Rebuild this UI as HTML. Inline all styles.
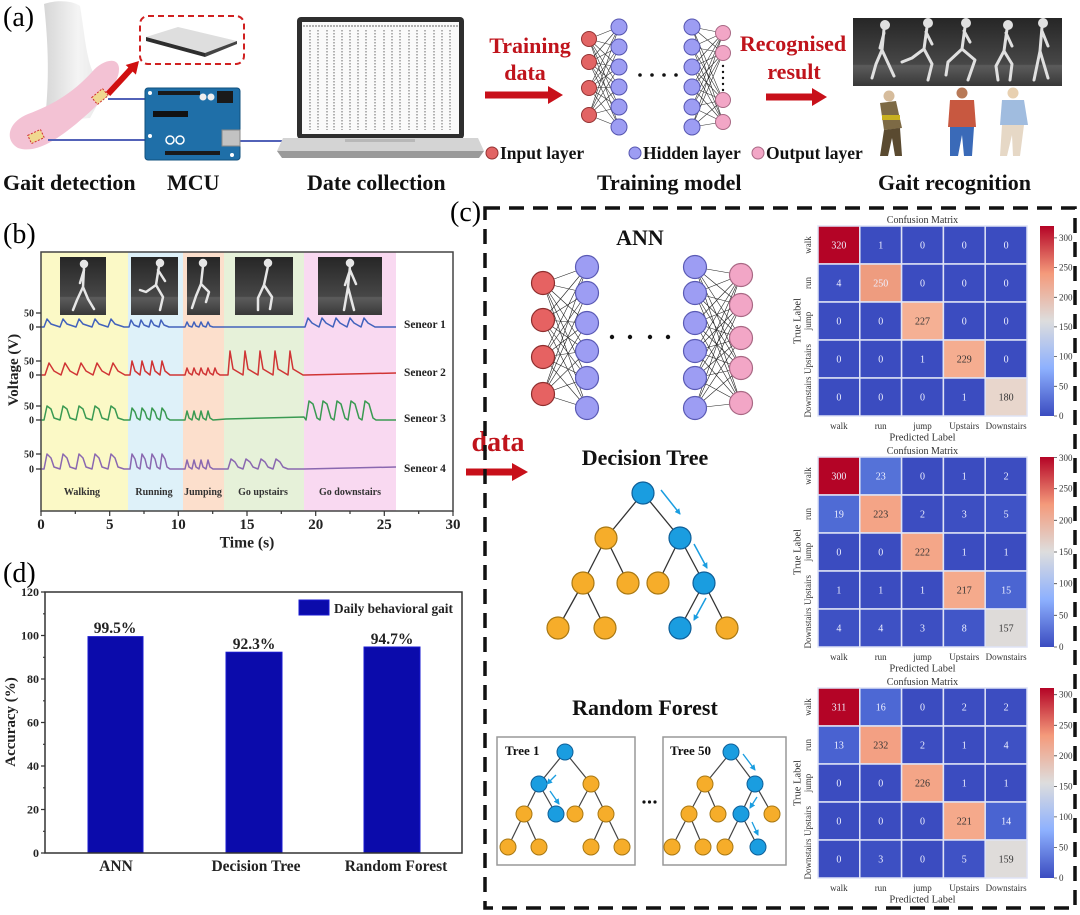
<!DOCTYPE html>
<html><head><meta charset="utf-8">
<style>
html,body{margin:0;padding:0;background:#fff;}
body{width:1080px;height:915px;overflow:hidden;}
svg{display:block;font-family:"Liberation Serif",serif;}
</style></head><body>
<svg width="1080" height="915" viewBox="0 0 1080 915" xmlns="http://www.w3.org/2000/svg">
<defs>
<linearGradient id="dk" x1="0" y1="0" x2="0" y2="1"><stop offset="0" stop-color="#262626"/><stop offset="0.68" stop-color="#474747"/><stop offset="0.7" stop-color="#5c5c5c"/><stop offset="1" stop-color="#383838"/></linearGradient>
<linearGradient id="cb" x1="0" y1="0" x2="0" y2="1"><stop offset="0" stop-color="#b40426"/><stop offset="0.25" stop-color="#f49a7b"/><stop offset="0.5" stop-color="#dddddd"/><stop offset="0.75" stop-color="#8db0fe"/><stop offset="1" stop-color="#3b4cc0"/></linearGradient>
<linearGradient id="legg" x1="0" y1="0" x2="1" y2="0"><stop offset="0" stop-color="#d6d6d6"/><stop offset="0.5" stop-color="#f4f4f4"/><stop offset="1" stop-color="#e2e2e2"/></linearGradient>
<marker id="ba" markerWidth="6" markerHeight="6" refX="5" refY="3" orient="auto" markerUnits="userSpaceOnUse"><path d="M0,0 L6,3 L0,6 Z" fill="#1a9de0"/></marker>
</defs>

<!-- ================= PANEL A ================= -->
<text x="3" y="26" font-size="28">(a)</text>
<!-- foot -->
<path d="M44,4 C55,0 72,0 80,6 C84,30 86,55 92,70 C98,82 106,84 112,78 L90,118 L45,122 C48,90 50,60 44,4 Z" fill="url(#legg)"/>
<path d="M18,148 C4,140 8,122 28,114 C50,106 72,94 92,72 C102,60 118,56 119,68 C120,84 100,104 76,124 C56,140 36,154 18,148 Z" fill="#f3c2d4"/>
<rect x="93" y="92" width="14" height="9" fill="#f0d890" stroke="#d03030" stroke-dasharray="2,1.5" transform="rotate(-40 100 96.5)"/>
<rect x="29" y="132" width="14" height="9" fill="#f0d890" stroke="#d03030" stroke-dasharray="2,1.5" transform="rotate(-25 36 136.5)"/>
<line x1="108" y1="99" x2="145" y2="99" stroke="#5262b8" stroke-width="2"/>
<line x1="48" y1="140" x2="145" y2="140" stroke="#5262b8" stroke-width="2"/>
<line x1="240" y1="141" x2="295" y2="141" stroke="#5262b8" stroke-width="2"/>
<line x1="108" y1="94" x2="131" y2="69" stroke="#d01010" stroke-width="6"/>
<polygon points="139,61 135.9,74.6 125.7,65" fill="#d01010"/>
<!-- sensor plate -->
<rect x="140" y="16" width="104" height="48" rx="8" fill="none" stroke="#d02020" stroke-width="2" stroke-dasharray="6,4"/>
<polygon points="146,37 178,27 237,41 205,53" fill="#dedede"/>
<polygon points="146,37 205,53 205,57 146,41" fill="#2e2e2e"/>
<polygon points="205,53 237,41 237,44 205,57" fill="#444"/>
<!-- arduino -->
<rect x="145" y="88" width="95" height="72" rx="3" fill="#1f6fa8" stroke="#12507e"/>
<rect x="158" y="91" width="42" height="4" fill="#1a1a1a"/>
<rect x="217" y="91" width="16" height="12" fill="#1a1a1a"/>
<circle cx="203" cy="97" r="3.5" fill="#eee"/><circle cx="211" cy="97" r="3.5" fill="#eee"/>
<rect x="153" y="111" width="35" height="6" fill="#111"/>
<rect x="222" y="130" width="18" height="16" fill="#c2c2c2" stroke="#888"/>
<rect x="165" y="151" width="55" height="4" fill="#1a1a1a"/>
<circle cx="170" cy="140" r="4" fill="none" stroke="#fff" stroke-width="1.5"/><circle cx="180" cy="140" r="4" fill="none" stroke="#fff" stroke-width="1.5"/>
<circle cx="150" cy="93" r="2" fill="#fff"/><circle cx="150" cy="136" r="2" fill="#fff"/><circle cx="232" cy="155" r="2" fill="#fff"/>
<!-- laptop -->
<rect x="297" y="17" width="167" height="122" rx="4" fill="#2e2e2e"/>
<rect x="302" y="22" width="157" height="112" fill="#fafafa"/>
<line x1="303" y1="26" x2="458" y2="26" stroke="#999" stroke-width="1.5" stroke-dasharray="2,1"/>
<g stroke="#8a8a8a" stroke-width="1.3" stroke-dasharray="1.5,1.5">
<line x1="310" y1="30" x2="310" y2="130"/><line x1="318" y1="30" x2="318" y2="130"/><line x1="327" y1="30" x2="327" y2="130"/><line x1="334" y1="30" x2="334" y2="130"/><line x1="342" y1="30" x2="342" y2="130"/><line x1="350" y1="30" x2="350" y2="130"/><line x1="358" y1="30" x2="358" y2="130"/><line x1="366" y1="30" x2="366" y2="130"/><line x1="375" y1="30" x2="375" y2="130"/><line x1="384" y1="30" x2="384" y2="130"/><line x1="392" y1="30" x2="392" y2="130"/><line x1="400" y1="30" x2="400" y2="130"/><line x1="409" y1="30" x2="409" y2="130"/><line x1="417" y1="30" x2="417" y2="130"/><line x1="425" y1="30" x2="425" y2="130"/><line x1="434" y1="30" x2="434" y2="130"/><line x1="442" y1="30" x2="442" y2="130"/><line x1="450" y1="30" x2="450" y2="130"/>
</g>
<path d="M283,138 L478,138 L484,151 L277,151 Z" fill="#d4d4d4"/>
<path d="M277,151 L484,151 L479,158 L282,158 Z" fill="#9a9a9a"/>
<rect x="345" y="139" width="70" height="3" fill="#b8b8b8"/>
<!-- training data text & arrow -->
<g font-weight="bold" font-size="22" fill="#c0141c" text-anchor="middle">
<text x="530" y="53">Training</text><text x="525" y="80">data</text>
<text x="793" y="51">Recognised</text><text x="794" y="79">result</text>
</g>
<polygon points="485,91.5 548,91.5 548,86 563,95 548,104 548,98.5 485,98.5" fill="#c8101a"/>
<polygon points="766,93.5 812,93.5 812,88 827,97 812,106 812,100.5 766,100.5" fill="#c8101a"/>
<!-- NN (a) -->
<g stroke="#333" stroke-width="0.6">
<path d="M589,39L619,27M589,39L619,47M589,39L619,67M589,39L619,87M589,39L619,107M589,39L619,127M589,62L619,27M589,62L619,47M589,62L619,67M589,62L619,87M589,62L619,107M589,62L619,127M589,88L619,27M589,88L619,47M589,88L619,67M589,88L619,87M589,88L619,107M589,88L619,127M589,115L619,27M589,115L619,47M589,115L619,67M589,115L619,87M589,115L619,107M589,115L619,127"/>
<path d="M692,27L723,33M692,27L723,53M692,27L723,100M692,27L723,122M692,47L723,33M692,47L723,53M692,47L723,100M692,47L723,122M692,67L723,33M692,67L723,53M692,67L723,100M692,67L723,122M692,87L723,33M692,87L723,53M692,87L723,100M692,87L723,122M692,107L723,33M692,107L723,53M692,107L723,100M692,107L723,122M692,127L723,33M692,127L723,53M692,127L723,100M692,127L723,122"/>
</g>
<g fill="#e26464" stroke="#933232" stroke-width="1"><circle cx="589" cy="39" r="7.5"/><circle cx="589" cy="62" r="7.5"/><circle cx="589" cy="88" r="7.5"/><circle cx="589" cy="115" r="7.5"/></g>
<g fill="#9d9df3" stroke="#5656b0" stroke-width="1"><circle cx="619" cy="27" r="8"/><circle cx="619" cy="47" r="8"/><circle cx="619" cy="67" r="8"/><circle cx="619" cy="87" r="8"/><circle cx="619" cy="107" r="8"/><circle cx="619" cy="127" r="8"/><circle cx="692" cy="27" r="8"/><circle cx="692" cy="47" r="8"/><circle cx="692" cy="67" r="8"/><circle cx="692" cy="87" r="8"/><circle cx="692" cy="107" r="8"/><circle cx="692" cy="127" r="8"/></g>
<g fill="#f2a6c6" stroke="#a86884" stroke-width="1"><circle cx="723" cy="33" r="7.5"/><circle cx="723" cy="53" r="7.5"/><circle cx="723" cy="100" r="7.5"/><circle cx="723" cy="122" r="7.5"/></g>
<g fill="#111"><circle cx="640" cy="75" r="1.8"/><circle cx="652" cy="75" r="1.8"/><circle cx="664" cy="75" r="1.8"/><circle cx="676" cy="75" r="1.8"/><circle cx="723" cy="66" r="1.2"/><circle cx="723" cy="72" r="1.2"/><circle cx="723" cy="78" r="1.2"/><circle cx="723" cy="84" r="1.2"/><circle cx="723" cy="90" r="1.2"/></g>
<!-- legend -->
<circle cx="492" cy="153" r="6" fill="#e26464" stroke="#933232"/>
<circle cx="635" cy="153" r="6" fill="#9d9df3" stroke="#5656b0"/>
<circle cx="758" cy="153" r="6" fill="#f2a6c6" stroke="#a86884"/>
<g font-weight="bold" font-size="17.5" fill="#111">
<text x="500" y="159">Input layer</text><text x="643" y="159">Hidden layer</text><text x="766" y="159">Output layer</text>
</g>
<!-- skeleton strip -->
<rect x="853" y="18" width="209" height="68" fill="url(#dk)"/>
<g stroke="#e0e0e0" stroke-width="3" fill="none" stroke-linecap="round" stroke-linejoin="round">
<circle cx="885" cy="25" r="3.5" fill="#e0e0e0"/><path d="M884,29 L882,50 M882,50 L876,64 L872,78 M882,50 L888,63 L894,76 M884,33 L880,48"/>
<circle cx="928" cy="23" r="3.5" fill="#e0e0e0"/><path d="M927,27 L924,49 M924,49 L932,64 L928,80 M924,49 L912,58 L902,62 M926,32 L932,44"/>
<circle cx="966" cy="23" r="3.5" fill="#e0e0e0"/><path d="M965,27 L962,49 M962,49 L948,62 L946,75 M962,49 L975,60 L968,80 M964,31 L970,42"/>
<circle cx="1008" cy="25" r="3.5" fill="#e0e0e0"/><path d="M1007,29 L1004,51 M1004,51 L996,66 L998,80 M1004,51 L1012,64 L1010,80 M1006,33 L1012,46"/>
<circle cx="1043" cy="23" r="3.5" fill="#e0e0e0"/><path d="M1042,27 L1040,51 M1040,51 L1034,80 M1040,51 L1048,78 M1042,31 L1048,46"/>
</g>
<!-- people -->
<circle cx="889" cy="96" r="5.5" fill="#d6bc9c"/>
<polygon points="880,103 896,101 902,128 884,130" fill="#7d6a45"/>
<rect x="882" y="115" width="18" height="5" fill="#c8b020"/>
<polygon points="884,130 900,128 902,156 895,156 892,138 888,156 880,156" fill="#5a4a30"/>
<circle cx="962" cy="93" r="5.5" fill="#b87a58"/>
<polygon points="950,100 974,100 976,127 948,127" fill="#c85840"/>
<polygon points="950,127 974,127 972,156 964,156 962,135 958,156 950,156" fill="#3a6ab8"/>
<circle cx="1013" cy="93" r="5.5" fill="#e8d0b0"/>
<polygon points="1002,100 1024,100 1028,125 1000,125" fill="#a0bcdf"/>
<polygon points="1002,125 1024,125 1020,156 1013,156 1012,135 1007,156 1000,156" fill="#e6d8c6"/>
<!-- bottom labels -->
<g font-weight="bold" font-size="22" fill="#111">
<text x="3" y="190">Gait detection</text><text x="167" y="190">MCU</text><text x="307" y="190">Date collection</text><text x="597" y="190">Training model</text><text x="878" y="190">Gait recognition</text>
</g>

<!-- ================= PANEL B ================= -->
<text x="3" y="243" font-size="28">(b)</text>
<rect x="41" y="252" width="87" height="259" fill="#fbf9c6"/>
<rect x="128" y="252" width="55" height="259" fill="#def1f9"/>
<rect x="183" y="252" width="41" height="259" fill="#fcdfcc"/>
<rect x="224" y="252" width="80" height="259" fill="#e6f1d9"/>
<rect x="304" y="252" width="92" height="259" fill="#f9d9f1"/>
<g fill="url(#dk)"><rect x="60" y="257" width="46" height="58"/><rect x="131" y="257" width="47" height="58"/><rect x="187" y="257" width="33" height="58"/><rect x="235" y="257" width="58" height="58"/><rect x="318" y="257" width="64" height="58"/></g>
<g stroke="#e6e6e6" stroke-width="2.5" fill="none" stroke-linecap="round" stroke-linejoin="round">
<circle cx="84" cy="264" r="3" fill="#e6e6e6"/><path d="M84,267 L83,287 M83,287 L77,300 L73,310 M83,287 L88,299 L94,309 M84,270 L80,283"/>
<circle cx="160" cy="263" r="3" fill="#e6e6e6"/><path d="M159,266 L156,285 M156,285 L163,297 L160,310 M156,285 L146,292 L140,290 M158,270 L165,281"/>
<circle cx="203" cy="263" r="3" fill="#e6e6e6"/><path d="M203,266 L201,284 M201,284 L196,296 L192,308 M201,284 L209,292 L206,302"/>
<circle cx="268" cy="263" r="3" fill="#e6e6e6"/><path d="M268,266 L264,285 M264,285 L258,298 L258,310 M264,285 L272,297 L270,309"/>
<circle cx="350" cy="263" r="3" fill="#e6e6e6"/><path d="M350,266 L348,287 M348,287 L344,310 M348,287 L354,310 M350,270 L345,285 M350,270 L356,284"/>
</g>
<g fill="none" stroke-width="1.5" stroke-linejoin="round">
<path stroke="#4262bc" d="M41,327 L44,327 l3,-8 l4,5 l9,3 l3,-8 l4,5 l9,3 l3,-8 l4,5 l9,3 l3,-8 l4,5 l9,3 l3,-8 l4,5 l9,3 L129,327 l2,-7 l3,5 l5,2 l2,-7 l3,5 l5,2 l2,-7 l3,5 l5,2 l2,-7 l3,5 l5,2 L185,327 l2,-5 l2,4 l3,1 l2,-5 l2,4 l3,1 l2,-5 l2,4 l3,1 l2,-5 l2,4 l3,1 L305,327 l3,-9 l4,5 l7,4 l3,-9 l4,5 l7,4 l3,-9 l4,5 l7,4 l3,-9 l4,5 l7,4 l3,-9 l4,5 l7,4 L396,327"/>
<path stroke="#d03535" d="M41,375 L45,375 l4,-12 l5,8 l7,4 l4,-12 l5,8 l7,4 l4,-12 l5,8 l7,4 l4,-12 l5,8 l7,4 l4,-12 l5,8 l7,4 L130,375 l2,-14 l3,10 l5,4 l2,-14 l3,10 l5,4 l2,-14 l3,10 l5,4 l2,-14 l3,10 l5,4 L185,375 l2,-7 l2,5 l3,2 l2,-7 l2,5 l3,2 l2,-7 l2,5 l3,2 l2,-7 l2,5 l3,2 l2,-7 l2,5 l3,2 L228,375 l2,-24 l3,18 l10,6 l2,-24 l3,18 l10,6 l2,-24 l3,18 l10,6 l2,-24 l3,18 l10,6 l2,-24 l3,18 l10,6 L305,375 L396,373"/>
<path stroke="#3a9a52" d="M41,420 L44,420 l3,-14 l4,3 l3,9 l6,2 l3,-14 l4,3 l3,9 l6,2 l3,-14 l4,3 l3,9 l6,2 l3,-14 l4,3 l3,9 l6,2 l3,-14 l4,3 l3,9 l6,2 L130,420 l2,-12 l3,4 l2,6 l3,2 l2,-12 l3,4 l2,6 l3,2 l2,-12 l3,4 l2,6 l3,2 l2,-12 l3,4 l2,6 l3,2 L185,420 l2,-9 l2,7 l3,2 l2,-9 l2,7 l3,2 l2,-9 l2,7 l3,2 l2,-9 l2,7 l3,2 L226,419 L304,417 L306,420 l3,-19 l4,3 l4,14 l3,2 l3,-19 l4,3 l4,14 l3,2 l3,-19 l4,3 l4,14 l3,2 l3,-19 l4,3 l4,14 l3,2 l3,-19 l4,3 l4,14 l3,2 L396,420"/>
<path stroke="#8a68b0" d="M41,469 L44,469 l3,-15 l4,4 l3,9 l6,2 l3,-15 l4,4 l3,9 l6,2 l3,-15 l4,4 l3,9 l6,2 l3,-15 l4,4 l3,9 l6,2 l3,-15 l4,4 l3,9 l6,2 L130,469 l2,-15 l3,5 l2,8 l3,2 l2,-15 l3,5 l2,8 l3,2 l2,-15 l3,5 l2,8 l3,2 l2,-15 l3,5 l2,8 l3,2 L185,469 l2,-9 l2,7 l3,2 l2,-9 l2,7 l3,2 l2,-9 l2,7 l3,2 l2,-9 l2,7 l3,2 L228,469 l3,-10 l4,3 l3,5 l5,2 l3,-10 l4,3 l3,5 l5,2 l3,-10 l4,3 l3,5 l5,2 l3,-10 l4,3 l3,5 l5,2 L304,469 L396,467"/>
</g>
<rect x="41" y="252" width="412" height="259" fill="none" stroke="#444" stroke-width="1.5"/>
<g stroke="#333" stroke-width="1.2">
<path d="M36,313H41M36,327H41M36,361H41M36,375H41M36,406H41M36,420H41M36,454H41M36,469H41"/>
<path d="M41,511V516M109.7,511V516M178.3,511V516M247,511V516M315.7,511V516M384.3,511V516M453,511V516M75.3,511V514M144,511V514M212.7,511V514M281.3,511V514M350,511V514M418.7,511V514"/>
</g>
<g font-weight="bold" font-size="10" fill="#222" text-anchor="end">
<text x="34" y="316.5">50</text><text x="34" y="330.5">0</text><text x="34" y="364.5">50</text><text x="34" y="378.5">0</text><text x="34" y="409.5">50</text><text x="34" y="423.5">0</text><text x="34" y="457.5">50</text><text x="34" y="472.5">0</text>
</g>
<text transform="translate(18,370) rotate(-90)" font-weight="bold" font-size="15" text-anchor="middle" fill="#222">Voltage (V)</text>
<g font-weight="bold" font-size="11.4" fill="#222">
<text x="404" y="328">Seneor 1</text><text x="404" y="376">Seneor 2</text><text x="404" y="422">Seneor 3</text><text x="404" y="472">Seneor 4</text>
</g>
<g font-weight="bold" font-size="10" fill="#333" text-anchor="middle">
<text x="82" y="495">Walking</text><text x="154" y="495">Running</text><text x="203" y="495">Jumping</text><text x="263" y="495">Go upstairs</text><text x="350" y="495">Go downstairs</text>
</g>
<g font-weight="bold" font-size="15" fill="#222" text-anchor="middle">
<text x="41" y="529">0</text><text x="109.7" y="529">5</text><text x="178.3" y="529">10</text><text x="247" y="529">15</text><text x="315.7" y="529">20</text><text x="384.3" y="529">25</text><text x="453" y="529">30</text>
<text x="247" y="547.5" font-size="15.6">Time (s)</text>
</g>

<!-- ================= PANEL D ================= -->
<text x="3" y="582" font-size="28">(d)</text>
<g fill="#0b0bab" stroke="#1a1ad0" stroke-width="1">
<rect x="88" y="636.6" width="55" height="216.4"/><rect x="226" y="652.2" width="56" height="200.8"/><rect x="364" y="647" width="56" height="206"/>
</g>
<rect x="45" y="592" width="417" height="261" fill="none" stroke="#333" stroke-width="1.5"/>
<g stroke="#333" stroke-width="1.2">
<path d="M41,853H45M41,809.5H45M41,766H45M41,722.5H45M41,679H45M41,635.5H45M41,592H45M43,831.3H45M43,787.8H45M43,744.3H45M43,700.8H45M43,657.3H45M43,613.8H45"/>
</g>
<g font-weight="bold" font-size="12" fill="#222" text-anchor="end">
<text x="39" y="857">0</text><text x="39" y="813.5">20</text><text x="39" y="770">40</text><text x="39" y="726.5">60</text><text x="39" y="683">80</text><text x="39" y="639.5">100</text><text x="39" y="596">120</text>
</g>
<text transform="translate(15,722) rotate(-90)" font-weight="bold" font-size="15" text-anchor="middle" fill="#222">Accuracy (%)</text>
<rect x="299" y="600" width="30" height="15" fill="#0b0bab" stroke="#1a1ad0"/>
<text x="334" y="613" font-weight="bold" font-size="13.3" fill="#222">Daily behavioral gait</text>
<g font-weight="bold" font-size="15.5" fill="#222" text-anchor="middle">
<text x="115" y="633">99.5%</text><text x="254" y="649">92.3%</text><text x="392" y="644">94.7%</text>
<text x="116" y="871">ANN</text><text x="256" y="871">Decision Tree</text><text x="396" y="871">Random Forest</text>
</g>

<!-- ================= PANEL C ================= -->
<text x="450" y="221" font-size="28">(c)</text>
<!-- ANN -->
<text x="640" y="245" font-weight="bold" font-size="22" text-anchor="middle" fill="#111">ANN</text>
<g stroke="#222" stroke-width="0.6">
<path d="M543,283L587,267M543,283L587,293M543,283L587,323M543,283L587,351M543,283L587,378M543,283L587,408M543,320L587,267M543,320L587,293M543,320L587,323M543,320L587,351M543,320L587,378M543,320L587,408M543,357L587,267M543,357L587,293M543,357L587,323M543,357L587,351M543,357L587,378M543,357L587,408M543,394L587,267M543,394L587,293M543,394L587,323M543,394L587,351M543,394L587,378M543,394L587,408"/>
<path d="M695,267L741,275M695,267L741,305M695,267L741,338M695,267L741,368M695,267L741,403M695,293L741,275M695,293L741,305M695,293L741,338M695,293L741,368M695,293L741,403M695,323L741,275M695,323L741,305M695,323L741,338M695,323L741,368M695,323L741,403M695,351L741,275M695,351L741,305M695,351L741,338M695,351L741,368M695,351L741,403M695,378L741,275M695,378L741,305M695,378L741,338M695,378L741,368M695,378L741,403M695,408L741,275M695,408L741,305M695,408L741,338M695,408L741,368M695,408L741,403"/>
</g>
<g fill="#e66262" stroke="#8e2e2e" stroke-width="1.2"><circle cx="543" cy="283" r="11.5"/><circle cx="543" cy="320" r="11.5"/><circle cx="543" cy="357" r="11.5"/><circle cx="543" cy="394" r="11.5"/></g>
<g fill="#9d9df3" stroke="#5a5ab4" stroke-width="1.2"><circle cx="587" cy="267" r="11.5"/><circle cx="587" cy="293" r="11.5"/><circle cx="587" cy="323" r="11.5"/><circle cx="587" cy="351" r="11.5"/><circle cx="587" cy="378" r="11.5"/><circle cx="587" cy="408" r="11.5"/><circle cx="695" cy="267" r="11.5"/><circle cx="695" cy="293" r="11.5"/><circle cx="695" cy="323" r="11.5"/><circle cx="695" cy="351" r="11.5"/><circle cx="695" cy="378" r="11.5"/><circle cx="695" cy="408" r="11.5"/></g>
<g fill="#f2a6c6" stroke="#a86884" stroke-width="1.2"><circle cx="741" cy="275" r="11.5"/><circle cx="741" cy="305" r="11.5"/><circle cx="741" cy="338" r="11.5"/><circle cx="741" cy="368" r="11.5"/><circle cx="741" cy="403" r="11.5"/></g>
<g fill="#111"><circle cx="612" cy="337" r="2.2"/><circle cx="630" cy="337" r="2.2"/><circle cx="650" cy="337" r="2.2"/><circle cx="668" cy="337" r="2.2"/></g>
<!-- data arrow -->
<text x="498" y="451" font-weight="bold" font-size="28" text-anchor="middle" fill="#c0141c">data</text>
<polygon points="466,468.5 512,468.5 512,463 528,472 512,481 512,475.5 466,475.5" fill="#c8101a"/>
<!-- Decision tree -->
<text x="645" y="465" font-weight="bold" font-size="22" text-anchor="middle" fill="#111">Decision Tree</text>
<g stroke="#333" stroke-width="1.3"><path d="M643,493L606,538M643,493L680,538M606,538L583,583M606,538L628,583M680,538L658,583M680,538L704,583M583,583L558,628M583,583L605,628M704,583L680,628M704,583L727,628"/></g>
<g fill="#f6ad2a" stroke="#a87814" stroke-width="1.2"><circle cx="606" cy="538" r="11"/><circle cx="583" cy="583" r="11"/><circle cx="628" cy="583" r="11"/><circle cx="658" cy="583" r="11"/><circle cx="558" cy="628" r="11"/><circle cx="605" cy="628" r="11"/><circle cx="727" cy="628" r="11"/></g>
<g fill="#1a9de0" stroke="#0f5f98" stroke-width="1.2"><circle cx="643" cy="493" r="11"/><circle cx="680" cy="538" r="11"/><circle cx="704" cy="583" r="11"/><circle cx="680" cy="628" r="11"/></g>
<g stroke="#1a9de0" stroke-width="1.5" marker-end="url(#ba)"><line x1="661" y1="490" x2="680" y2="514"/><line x1="694" y1="544" x2="707" y2="568"/><line x1="706" y1="598" x2="694" y2="620"/></g>
<!-- Random forest -->
<text x="645" y="715" font-weight="bold" font-size="22" text-anchor="middle" fill="#111">Random Forest</text>
<rect x="497" y="737" width="138" height="128" fill="none" stroke="#999" stroke-width="1.5"/>
<rect x="663" y="737" width="123" height="128" fill="none" stroke="#999" stroke-width="1.5"/>
<g font-weight="bold" font-size="13" fill="#111"><text x="505" y="755">Tree 1</text><text x="670" y="755">Tree 50</text></g>
<g fill="#111"><circle cx="644" cy="802" r="1.6"/><circle cx="649.5" cy="802" r="1.6"/><circle cx="655" cy="802" r="1.6"/></g>
<g stroke="#444" stroke-width="1.2"><path d="M565,752L539,784M565,752L591,784M539,784L524,814M539,784L556,814M591,784L575,814M591,784L606,814M524,814L508,847M524,814L539,847M606,814L591,847M606,814L622,847"/>
<path d="M731,752L705,784M731,752L755,784M705,784L689,814M705,784L718,814M755,784L741,814M755,784L772,814M689,814L672,847M689,814L703,847M741,814L725,847M741,814L758,847"/></g>
<g fill="#f6ad2a" stroke="#a87814" stroke-width="1"><circle cx="591" cy="784" r="8"/><circle cx="524" cy="814" r="8"/><circle cx="575" cy="814" r="8"/><circle cx="606" cy="814" r="8"/><circle cx="508" cy="847" r="8"/><circle cx="539" cy="847" r="8"/><circle cx="591" cy="847" r="8"/><circle cx="622" cy="847" r="8"/>
<circle cx="705" cy="784" r="8"/><circle cx="689" cy="814" r="8"/><circle cx="718" cy="814" r="8"/><circle cx="772" cy="814" r="8"/><circle cx="672" cy="847" r="8"/><circle cx="703" cy="847" r="8"/><circle cx="725" cy="847" r="8"/></g>
<g fill="#1a9de0" stroke="#0f5f98" stroke-width="1"><circle cx="565" cy="752" r="8"/><circle cx="539" cy="784" r="8"/><circle cx="556" cy="814" r="8"/><circle cx="731" cy="752" r="8"/><circle cx="755" cy="784" r="8"/><circle cx="741" cy="814" r="8"/><circle cx="758" cy="847" r="8"/></g>
<g stroke="#1a9de0" stroke-width="1.3" marker-end="url(#ba)"><line x1="556" y1="775" x2="547" y2="784"/><line x1="550" y1="791" x2="559" y2="804"/><line x1="743" y1="754" x2="755" y2="770"/><line x1="757" y1="797" x2="750" y2="808"/><line x1="752" y1="822" x2="758" y2="835"/></g>

<!-- dashed box -->
<rect x="485" y="208" width="590" height="700" fill="none" stroke="#111" stroke-width="3.5" stroke-dasharray="15,9"/>

<!-- Confusion matrix 1 -->
<g transform="translate(818,226)" font-size="10">
<g stroke="#dfe3f5" stroke-width="1.5">
<rect x="0" y="0" width="41.8" height="38" fill="#b40426"/><rect x="41.8" y="0" width="41.8" height="38" fill="#3b4cc0"/><rect x="83.6" y="0" width="41.8" height="38" fill="#3b4cc0"/><rect x="125.4" y="0" width="41.8" height="38" fill="#3b4cc0"/><rect x="167.2" y="0" width="41.8" height="38" fill="#3b4cc0"/>
<rect x="0" y="38" width="41.8" height="38" fill="#3c4ec2"/><rect x="41.8" y="38" width="41.8" height="38" fill="#ee9c7f"/><rect x="83.6" y="38" width="41.8" height="38" fill="#3b4cc0"/><rect x="125.4" y="38" width="41.8" height="38" fill="#3b4cc0"/><rect x="167.2" y="38" width="41.8" height="38" fill="#3b4cc0"/>
<rect x="0" y="76" width="41.8" height="38" fill="#3b4cc0"/><rect x="41.8" y="76" width="41.8" height="38" fill="#3b4cc0"/><rect x="83.6" y="76" width="41.8" height="38" fill="#f5b094"/><rect x="125.4" y="76" width="41.8" height="38" fill="#3b4cc0"/><rect x="167.2" y="76" width="41.8" height="38" fill="#3b4cc0"/>
<rect x="0" y="114" width="41.8" height="38" fill="#3b4cc0"/><rect x="41.8" y="114" width="41.8" height="38" fill="#3b4cc0"/><rect x="83.6" y="114" width="41.8" height="38" fill="#3b4cc0"/><rect x="125.4" y="114" width="41.8" height="38" fill="#f5ad90"/><rect x="167.2" y="114" width="41.8" height="38" fill="#3b4cc0"/>
<rect x="0" y="152" width="41.8" height="38" fill="#3b4cc0"/><rect x="41.8" y="152" width="41.8" height="38" fill="#3b4cc0"/><rect x="83.6" y="152" width="41.8" height="38" fill="#3b4cc0"/><rect x="125.4" y="152" width="41.8" height="38" fill="#3b4cc0"/><rect x="167.2" y="152" width="41.8" height="38" fill="#e8d6cc"/>
</g>
<g text-anchor="middle" fill="#eef0ff">
<text x="20.9" y="22.5">320</text><text x="62.7" y="22.5">1</text><text x="104.5" y="22.5">0</text><text x="146.3" y="22.5">0</text><text x="188.1" y="22.5">0</text>
<text x="20.9" y="60.5">4</text><text x="62.7" y="60.5">250</text><text x="104.5" y="60.5">0</text><text x="146.3" y="60.5">0</text><text x="188.1" y="60.5">0</text>
<text x="20.9" y="98.5">0</text><text x="62.7" y="98.5">0</text><text x="104.5" y="98.5" fill="#333">227</text><text x="146.3" y="98.5">0</text><text x="188.1" y="98.5">0</text>
<text x="20.9" y="136.5">0</text><text x="62.7" y="136.5">0</text><text x="104.5" y="136.5">1</text><text x="146.3" y="136.5" fill="#333">229</text><text x="188.1" y="136.5">0</text>
<text x="20.9" y="174.5">0</text><text x="62.7" y="174.5">0</text><text x="104.5" y="174.5">0</text><text x="146.3" y="174.5">1</text><text x="188.1" y="174.5" fill="#333">180</text>
</g>
<g fill="#333" text-anchor="middle">
<text x="104.5" y="-3">Confusion Matrix</text>
<g font-size="9"><text x="20.9" y="203">walk</text><text x="62.7" y="203">run</text><text x="104.5" y="203">jump</text><text x="146.3" y="203">Upstairs</text><text x="188.1" y="203">Downstairs</text>
<text transform="translate(-7,19) rotate(-90)">walk</text><text transform="translate(-7,57) rotate(-90)">run</text><text transform="translate(-7,95) rotate(-90)">jump</text><text transform="translate(-7,133) rotate(-90)">Upstairs</text><text transform="translate(-7,171) rotate(-90)">Downstairs</text></g>
<text x="104.5" y="214.5" font-size="10.5">Predicted Label</text>
<text transform="translate(-17.5,95) rotate(-90)" font-size="10.5">True Label</text>
</g>
<rect x="222" y="0" width="14" height="190" fill="url(#cb)"/>
<g stroke="#444" stroke-width="0.8"><path d="M236,11.9h3M236,41.6h3M236,71.3h3M236,100.9h3M236,130.6h3M236,160.3h3M236,190h3"/></g>
<g font-size="9" fill="#333"><text x="241" y="15">300</text><text x="241" y="44.6">250</text><text x="241" y="74.3">200</text><text x="241" y="103.9">150</text><text x="241" y="133.6">100</text><text x="241" y="163.3">50</text><text x="241" y="193">0</text></g>
</g>

<!-- Confusion matrix 2 -->
<g transform="translate(818,457)" font-size="10">
<g stroke="#dfe3f5" stroke-width="1.5">
<rect x="0" y="0" width="41.8" height="38" fill="#b40426"/><rect x="41.8" y="0" width="41.8" height="38" fill="#5572d8"/><rect x="83.6" y="0" width="41.8" height="38" fill="#3b4cc0"/><rect x="125.4" y="0" width="41.8" height="38" fill="#3b4cc0"/><rect x="167.2" y="0" width="41.8" height="38" fill="#3c4dc1"/>
<rect x="0" y="38" width="41.8" height="38" fill="#4f6bd5"/><rect x="41.8" y="38" width="41.8" height="38" fill="#f4a486"/><rect x="83.6" y="38" width="41.8" height="38" fill="#3c4dc1"/><rect x="125.4" y="38" width="41.8" height="38" fill="#3d4fc2"/><rect x="167.2" y="38" width="41.8" height="38" fill="#3f53c6"/>
<rect x="0" y="76" width="41.8" height="38" fill="#3b4cc0"/><rect x="41.8" y="76" width="41.8" height="38" fill="#3b4cc0"/><rect x="83.6" y="76" width="41.8" height="38" fill="#f4a688"/><rect x="125.4" y="76" width="41.8" height="38" fill="#3b4cc0"/><rect x="167.2" y="76" width="41.8" height="38" fill="#3b4cc0"/>
<rect x="0" y="114" width="41.8" height="38" fill="#3b4cc0"/><rect x="41.8" y="114" width="41.8" height="38" fill="#3b4cc0"/><rect x="83.6" y="114" width="41.8" height="38" fill="#3b4cc0"/><rect x="125.4" y="114" width="41.8" height="38" fill="#f5aa8c"/><rect x="167.2" y="114" width="41.8" height="38" fill="#4b65d2"/>
<rect x="0" y="152" width="41.8" height="38" fill="#3e51c4"/><rect x="41.8" y="152" width="41.8" height="38" fill="#3e51c4"/><rect x="83.6" y="152" width="41.8" height="38" fill="#3d4fc2"/><rect x="125.4" y="152" width="41.8" height="38" fill="#4156c8"/><rect x="167.2" y="152" width="41.8" height="38" fill="#dedbd9"/>
</g>
<g text-anchor="middle" fill="#eef0ff">
<text x="20.9" y="22.5">300</text><text x="62.7" y="22.5">23</text><text x="104.5" y="22.5">0</text><text x="146.3" y="22.5">1</text><text x="188.1" y="22.5">2</text>
<text x="20.9" y="60.5">19</text><text x="62.7" y="60.5" fill="#333">223</text><text x="104.5" y="60.5">2</text><text x="146.3" y="60.5">3</text><text x="188.1" y="60.5">5</text>
<text x="20.9" y="98.5">0</text><text x="62.7" y="98.5">0</text><text x="104.5" y="98.5" fill="#333">222</text><text x="146.3" y="98.5">1</text><text x="188.1" y="98.5">1</text>
<text x="20.9" y="136.5">1</text><text x="62.7" y="136.5">1</text><text x="104.5" y="136.5">1</text><text x="146.3" y="136.5" fill="#333">217</text><text x="188.1" y="136.5">15</text>
<text x="20.9" y="174.5">4</text><text x="62.7" y="174.5">4</text><text x="104.5" y="174.5">3</text><text x="146.3" y="174.5">8</text><text x="188.1" y="174.5" fill="#333">157</text>
</g>
<g fill="#333" text-anchor="middle">
<text x="104.5" y="-3">Confusion Matrix</text>
<g font-size="9"><text x="20.9" y="203">walk</text><text x="62.7" y="203">run</text><text x="104.5" y="203">jump</text><text x="146.3" y="203">Upstairs</text><text x="188.1" y="203">Downstairs</text>
<text transform="translate(-7,19) rotate(-90)">walk</text><text transform="translate(-7,57) rotate(-90)">run</text><text transform="translate(-7,95) rotate(-90)">jump</text><text transform="translate(-7,133) rotate(-90)">Upstairs</text><text transform="translate(-7,171) rotate(-90)">Downstairs</text></g>
<text x="104.5" y="214.5" font-size="10.5">Predicted Label</text>
<text transform="translate(-17.5,95) rotate(-90)" font-size="10.5">True Label</text>
</g>
<rect x="222" y="0" width="14" height="190" fill="url(#cb)"/>
<g stroke="#444" stroke-width="0.8"><path d="M236,0.5h3M236,31.7h3M236,63.3h3M236,95h3M236,126.7h3M236,158.3h3M236,190h3"/></g>
<g font-size="9" fill="#333"><text x="241" y="4">300</text><text x="241" y="34.7">250</text><text x="241" y="66.3">200</text><text x="241" y="98">150</text><text x="241" y="129.7">100</text><text x="241" y="161.3">50</text><text x="241" y="193">0</text></g>
</g>

<!-- Confusion matrix 3 -->
<g transform="translate(818,688)" font-size="10">
<g stroke="#dfe3f5" stroke-width="1.5">
<rect x="0" y="0" width="41.8" height="38" fill="#b40426"/><rect x="41.8" y="0" width="41.8" height="38" fill="#4d68d4"/><rect x="83.6" y="0" width="41.8" height="38" fill="#3b4cc0"/><rect x="125.4" y="0" width="41.8" height="38" fill="#3c4dc1"/><rect x="167.2" y="0" width="41.8" height="38" fill="#3c4dc1"/>
<rect x="0" y="38" width="41.8" height="38" fill="#4962d1"/><rect x="41.8" y="38" width="41.8" height="38" fill="#f3a083"/><rect x="83.6" y="38" width="41.8" height="38" fill="#3c4dc1"/><rect x="125.4" y="38" width="41.8" height="38" fill="#3b4cc0"/><rect x="167.2" y="38" width="41.8" height="38" fill="#3e51c4"/>
<rect x="0" y="76" width="41.8" height="38" fill="#3b4cc0"/><rect x="41.8" y="76" width="41.8" height="38" fill="#3b4cc0"/><rect x="83.6" y="76" width="41.8" height="38" fill="#f4a587"/><rect x="125.4" y="76" width="41.8" height="38" fill="#3b4cc0"/><rect x="167.2" y="76" width="41.8" height="38" fill="#3b4cc0"/>
<rect x="0" y="114" width="41.8" height="38" fill="#3b4cc0"/><rect x="41.8" y="114" width="41.8" height="38" fill="#3b4cc0"/><rect x="83.6" y="114" width="41.8" height="38" fill="#3b4cc0"/><rect x="125.4" y="114" width="41.8" height="38" fill="#f5a98b"/><rect x="167.2" y="114" width="41.8" height="38" fill="#4a64d1"/>
<rect x="0" y="152" width="41.8" height="38" fill="#3b4cc0"/><rect x="41.8" y="152" width="41.8" height="38" fill="#3d50c3"/><rect x="83.6" y="152" width="41.8" height="38" fill="#3b4cc0"/><rect x="125.4" y="152" width="41.8" height="38" fill="#3f52c5"/><rect x="167.2" y="152" width="41.8" height="38" fill="#dfdcda"/>
</g>
<g text-anchor="middle" fill="#eef0ff">
<text x="20.9" y="22.5">311</text><text x="62.7" y="22.5">16</text><text x="104.5" y="22.5">0</text><text x="146.3" y="22.5">2</text><text x="188.1" y="22.5">2</text>
<text x="20.9" y="60.5">13</text><text x="62.7" y="60.5" fill="#333">232</text><text x="104.5" y="60.5">2</text><text x="146.3" y="60.5">1</text><text x="188.1" y="60.5">4</text>
<text x="20.9" y="98.5">0</text><text x="62.7" y="98.5">0</text><text x="104.5" y="98.5" fill="#333">226</text><text x="146.3" y="98.5">1</text><text x="188.1" y="98.5">1</text>
<text x="20.9" y="136.5">0</text><text x="62.7" y="136.5">0</text><text x="104.5" y="136.5">0</text><text x="146.3" y="136.5" fill="#333">221</text><text x="188.1" y="136.5">14</text>
<text x="20.9" y="174.5">0</text><text x="62.7" y="174.5">3</text><text x="104.5" y="174.5">0</text><text x="146.3" y="174.5">5</text><text x="188.1" y="174.5" fill="#333">159</text>
</g>
<g fill="#333" text-anchor="middle">
<text x="104.5" y="-3">Confusion Matrix</text>
<g font-size="9"><text x="20.9" y="203">walk</text><text x="62.7" y="203">run</text><text x="104.5" y="203">jump</text><text x="146.3" y="203">Upstairs</text><text x="188.1" y="203">Downstairs</text>
<text transform="translate(-7,19) rotate(-90)">walk</text><text transform="translate(-7,57) rotate(-90)">run</text><text transform="translate(-7,95) rotate(-90)">jump</text><text transform="translate(-7,133) rotate(-90)">Upstairs</text><text transform="translate(-7,171) rotate(-90)">Downstairs</text></g>
<text x="104.5" y="214.5" font-size="10.5">Predicted Label</text>
<text transform="translate(-17.5,95) rotate(-90)" font-size="10.5">True Label</text>
</g>
<rect x="222" y="0" width="14" height="190" fill="url(#cb)"/>
<g stroke="#444" stroke-width="0.8"><path d="M236,6.7h3M236,37.3h3M236,67.8h3M236,98.4h3M236,128.9h3M236,159.5h3M236,190h3"/></g>
<g font-size="9" fill="#333"><text x="241" y="9.7">300</text><text x="241" y="40.3">250</text><text x="241" y="70.8">200</text><text x="241" y="101.4">150</text><text x="241" y="131.9">100</text><text x="241" y="162.5">50</text><text x="241" y="193">0</text></g>
</g>

</svg>
</body></html>
